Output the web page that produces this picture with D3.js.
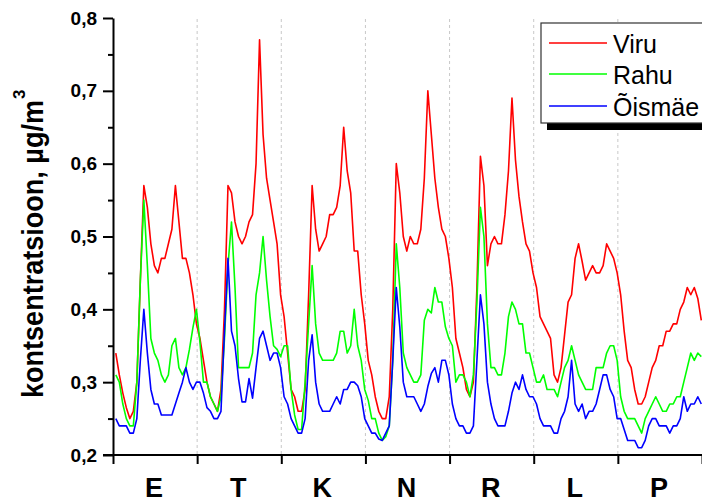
<!DOCTYPE html>
<html>
<head>
<meta charset="utf-8">
<script src="https://cdn.jsdelivr.net/npm/d3@7"></script>
<style>
  html, body { margin: 0; padding: 0; background: #fff; }
  svg { display: block; font-family: "Liberation Sans", Arial, sans-serif; }
</style>
</head>
<body>
<svg id="chart" width="702" height="502"></svg>
<script>
// ---- data ----
const days = ["E", "T", "K", "N", "R", "L", "P"];
const seriesNames = ["Viru", "Rahu", "Õismäe"];
const seriesColors = ["#ff0000", "#00ff00", "#0000ff"];
const yTicks = [0.2, 0.3, 0.4, 0.5, 0.6, 0.7, 0.8];
const yTickLabels = ["0,2", "0,3", "0,4", "0,5", "0,6", "0,7", "0,8"];
const yMinorTicks = [0.25, 0.35, 0.45, 0.55, 0.65, 0.75];
const dayTicks = [0, 24, 48, 72, 96, 120, 144, 168];

const viru = [
  0.34,0.31,0.285,0.265,0.25,0.26,0.30,0.44,0.57,0.54,0.49,0.46,0.45,0.47,0.47,0.49,0.51,0.57,0.52,0.47,0.47,0.45,0.42,0.38,
  0.36,0.33,0.30,0.28,0.27,0.26,0.29,0.40,0.57,0.56,0.52,0.50,0.49,0.50,0.52,0.53,0.60,0.77,0.64,0.58,0.55,0.52,0.49,0.42,
  0.39,0.34,0.29,0.28,0.26,0.26,0.29,0.42,0.57,0.51,0.48,0.49,0.50,0.53,0.53,0.54,0.57,0.65,0.59,0.56,0.48,0.48,0.42,0.38,
  0.33,0.31,0.28,0.26,0.25,0.25,0.28,0.40,0.60,0.56,0.50,0.48,0.50,0.49,0.49,0.51,0.58,0.70,0.64,0.58,0.54,0.51,0.50,0.47,
  0.43,0.36,0.34,0.32,0.29,0.28,0.30,0.43,0.61,0.57,0.46,0.49,0.50,0.49,0.49,0.53,0.59,0.69,0.605,0.555,0.52,0.49,0.48,0.45,
  0.43,0.39,0.38,0.37,0.36,0.31,0.30,0.32,0.365,0.41,0.42,0.47,0.49,0.466,0.44,0.45,0.46,0.45,0.45,0.46,0.49,0.48,0.47,0.45,
  0.42,0.37,0.33,0.32,0.29,0.27,0.27,0.28,0.30,0.32,0.33,0.35,0.35,0.37,0.37,0.38,0.38,0.40,0.41,0.43,0.42,0.43,0.415,0.385
];
const rahu = [
  0.31,0.30,0.27,0.25,0.24,0.24,0.30,0.44,0.55,0.46,0.36,0.34,0.33,0.31,0.30,0.31,0.35,0.36,0.32,0.31,0.32,0.345,0.375,0.40,
  0.355,0.30,0.30,0.28,0.27,0.26,0.28,0.36,0.46,0.52,0.43,0.32,0.32,0.32,0.32,0.34,0.42,0.45,0.50,0.44,0.39,0.35,0.345,0.335,
  0.35,0.35,0.29,0.255,0.235,0.235,0.30,0.38,0.46,0.38,0.34,0.33,0.33,0.33,0.33,0.34,0.37,0.37,0.34,0.35,0.40,0.35,0.33,0.29,
  0.275,0.25,0.25,0.23,0.22,0.225,0.24,0.33,0.49,0.43,0.34,0.32,0.31,0.30,0.30,0.31,0.385,0.40,0.395,0.43,0.41,0.41,0.376,0.36,
  0.35,0.30,0.31,0.31,0.30,0.28,0.31,0.41,0.54,0.50,0.38,0.32,0.32,0.31,0.31,0.34,0.39,0.41,0.40,0.38,0.38,0.34,0.34,0.32,
  0.30,0.30,0.31,0.29,0.29,0.29,0.28,0.30,0.32,0.33,0.35,0.33,0.31,0.30,0.29,0.29,0.29,0.32,0.32,0.32,0.34,0.35,0.35,0.33,
  0.28,0.26,0.25,0.25,0.25,0.24,0.23,0.25,0.26,0.27,0.28,0.27,0.26,0.26,0.27,0.27,0.28,0.28,0.30,0.32,0.34,0.33,0.34,0.335
];
const oismae = [
  0.25,0.24,0.24,0.24,0.23,0.23,0.25,0.33,0.40,0.34,0.29,0.27,0.27,0.255,0.255,0.255,0.255,0.27,0.285,0.30,0.32,0.30,0.29,0.30,
  0.30,0.285,0.265,0.26,0.25,0.25,0.26,0.37,0.47,0.37,0.35,0.305,0.273,0.273,0.305,0.278,0.32,0.36,0.37,0.35,0.33,0.34,0.34,0.32,
  0.28,0.27,0.25,0.24,0.23,0.23,0.25,0.33,0.365,0.30,0.27,0.26,0.26,0.26,0.27,0.28,0.27,0.29,0.29,0.30,0.30,0.295,0.28,0.25,
  0.24,0.23,0.23,0.222,0.22,0.23,0.24,0.33,0.43,0.376,0.30,0.28,0.28,0.28,0.27,0.26,0.27,0.294,0.312,0.32,0.30,0.33,0.33,0.31,
  0.27,0.25,0.24,0.24,0.23,0.23,0.24,0.33,0.42,0.38,0.30,0.27,0.25,0.24,0.24,0.24,0.26,0.285,0.30,0.29,0.31,0.29,0.28,0.28,
  0.27,0.25,0.24,0.24,0.24,0.23,0.23,0.25,0.26,0.28,0.33,0.27,0.26,0.27,0.25,0.26,0.26,0.27,0.29,0.31,0.31,0.29,0.28,0.25,
  0.25,0.235,0.22,0.22,0.22,0.21,0.21,0.22,0.24,0.25,0.25,0.24,0.24,0.24,0.23,0.24,0.24,0.25,0.28,0.26,0.27,0.27,0.28,0.27
];
const allSeries = [viru, rahu, oismae];

// ---- layout ----
const svg = d3.select("#chart");
const x0 = 113, x1 = 702, yTop = 18, yBot = 455;
const x = d3.scaleLinear().domain([0, 168]).range([x0, x1]);
const y = d3.scaleLinear().domain([0.2, 0.8]).range([yBot, yTop]);
const hourOffset = 0.8;

// gridlines (dashed) at day boundaries
svg.append("g").selectAll("line")
  .data(dayTicks.slice(1, -1))
  .join("line")
  .attr("x1", d => x(d)).attr("x2", d => x(d))
  .attr("y1", yTop + 1).attr("y2", yBot)
  .attr("stroke", "#c8c8c8").attr("stroke-width", 1)
  .attr("stroke-dasharray", "3,3");

// series lines
const line = d3.line()
  .x((d, i) => x(i + hourOffset))
  .y(d => y(d));
svg.append("g").selectAll("path")
  .data(allSeries)
  .join("path")
  .attr("d", d => line(d))
  .attr("fill", "none")
  .attr("stroke", (d, i) => seriesColors[i])
  .attr("stroke-width", 1.6)
  .attr("stroke-linejoin", "round");

// y axis minor ticks
const yMinor = svg.append("g").attr("transform", `translate(${x0},0)`)
  .call(d3.axisLeft(y).tickValues(yMinorTicks).tickSize(5).tickFormat(""));
yMinor.select(".domain").remove();
yMinor.selectAll("line").attr("stroke", "#000").attr("stroke-width", 2);

// y axis major
const yAxis = svg.append("g").attr("transform", `translate(${x0},0)`)
  .call(d3.axisLeft(y).tickValues(yTicks).tickSize(10).tickSizeOuter(0).tickPadding(6)
    .tickFormat((d, i) => yTickLabels[i]));
yAxis.select(".domain").attr("stroke", "#000").attr("stroke-width", 2);
yAxis.selectAll("line").attr("stroke", "#000").attr("stroke-width", 2);
yAxis.selectAll("text")
  .attr("font-family", "'Liberation Sans', Arial, sans-serif")
  .attr("font-size", 19).attr("font-weight", "bold").attr("fill", "#000");

// x axis
const xAxis = svg.append("g").attr("transform", `translate(0,${yBot})`)
  .call(d3.axisBottom(x).tickValues(dayTicks).tickSize(9).tickSizeOuter(0).tickFormat(""));
xAxis.select(".domain").attr("stroke", "#000").attr("stroke-width", 2)
  .attr("d", `M${x0 - 10},0H${x1 + 5}`);
xAxis.selectAll("line").attr("stroke", "#000").attr("stroke-width", 2);

// day labels
svg.append("g").selectAll("text")
  .data(days)
  .join("text")
  .attr("x", (d, i) => x(i * 24 + 12) - 1)
  .attr("y", 497)
  .attr("text-anchor", "middle")
  .attr("font-size", 27).attr("font-weight", "bold")
  .text(d => d);

// y axis title
svg.append("text")
  .attr("transform", "translate(43,398) rotate(-90)")
  .attr("text-anchor", "start")
  .attr("font-size", 29).attr("font-weight", "bold")
  .attr("textLength", 298).attr("lengthAdjust", "spacingAndGlyphs")
  .text("kontsentratsioon, µg/m");
svg.append("text")
  .attr("transform", "translate(25,99) rotate(-90)")
  .attr("text-anchor", "start")
  .attr("font-size", 17).attr("font-weight", "bold")
  .text("3");

// legend
const lg = svg.append("g");
lg.append("rect").attr("x", 547).attr("y", 29).attr("width", 170).attr("height", 101).attr("fill", "#000");
lg.append("rect").attr("x", 541).attr("y", 23).attr("width", 170).attr("height", 100)
  .attr("fill", "#fff").attr("stroke", "#333").attr("stroke-width", 1.2);
const legendY = [43, 74, 106];
seriesNames.forEach((name, i) => {
  lg.append("line").attr("x1", 549).attr("x2", 607)
    .attr("y1", legendY[i]).attr("y2", legendY[i])
    .attr("stroke", seriesColors[i]).attr("stroke-width", 1.6);
  lg.append("text").attr("x", 613).attr("y", legendY[i] + 9.5)
    .attr("font-size", 25).attr("fill", "#000").text(name);
});
</script>
</body>
</html>
